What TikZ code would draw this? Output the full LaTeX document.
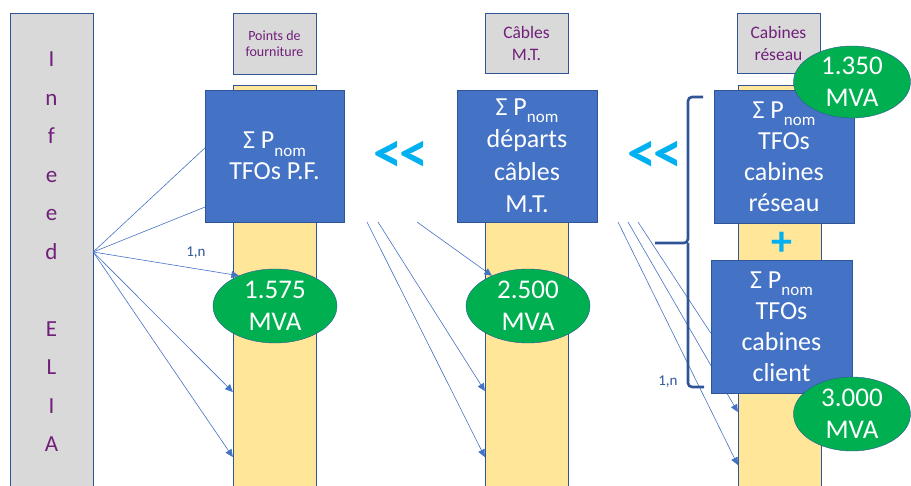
\documentclass[tikz,border=0pt]{standalone}
\usepackage{fontspec}
\setmainfont{Carlito}
\usepackage{xcolor}
\usetikzlibrary{arrows.meta, positioning, calc, shapes.geometric}
\definecolor{boxblue}{RGB}{68,114,196}
\definecolor{edgeblue}{RGB}{47,85,151}
\definecolor{mvagreen}{RGB}{0,176,80}
\definecolor{colyellow}{RGB}{255,230,153}
\definecolor{labgray}{RGB}{217,217,217}
\definecolor{labpurple}{RGB}{112,32,122}
\definecolor{accentcyan}{RGB}{0,176,240}
\pgfdeclarelayer{bg}
\pgfdeclarelayer{links}
\pgfsetlayers{bg,links,main}
\newcommand{\sumP}{Σ P\raisebox{-0.28em}{\fontsize{17}{17}\selectfont nom}}
\tikzset{
  infeedbox/.style={rectangle, draw=edgeblue, fill=labgray, minimum width=83pt, minimum height=478pt, inner sep=0pt, align=center, text=labpurple, font=\fontsize{23}{38.5}\selectfont},
  labelbox/.style={rectangle, draw=edgeblue, fill=labgray, minimum width=83pt, minimum height=60pt, inner sep=0pt, align=center, text=labpurple, font=\fontsize{17.5}{22}\selectfont},
  column/.style={rectangle, draw=edgeblue, fill=colyellow, minimum width=83pt, inner sep=0pt},
  sumbox/.style={rectangle, draw=edgeblue, fill=boxblue, minimum width=140pt, minimum height=132pt, inner sep=0pt, align=center, text=white, font=\fontsize{26}{31}\selectfont},
  mva/.style={ellipse, draw=edgeblue, fill=mvagreen, minimum width=124pt, minimum height=74pt, inner sep=0pt, align=center, text=white, font=\fontsize{27}{32}\selectfont},
  feed/.style={draw=boxblue, line width=0.6pt},
  arrow/.style={feed, -{Triangle[length=7.5pt,width=7pt]}},
  mult/.style={text=edgeblue, font=\fontsize{15}{15}\selectfont},
  less/.style={text=accentcyan, font=\bfseries\fontsize{58}{58}\selectfont},
  brace/.style={draw=edgeblue, line width=2.6pt, rounded corners=4pt}
}

\begin{document}
\begin{tikzpicture}[x=1pt, y=-1pt]
\useasboundingbox (0,0) rectangle (911,486);

\begin{pgfonlayer}{bg}
\node[infeedbox] (infeed) at (51.5,252) {I\\n\\f\\e\\e\\d\\[38.5pt]E\\L\\I\\A};
\node[column, minimum height=405pt] (col1) at (274.5,287.5) {};
\node[column, minimum height=400pt] (col2) at (526.5,290) {};
\node[column, minimum height=405pt] (col3) at (779.5,287.5) {};
\node[labelbox, font=\fontsize{14}{16.5}\selectfont, minimum height=61pt] (lab1) at (274.5,43.5) {Points de\\fourniture};
\node[labelbox] (lab2) at (526.5,43) {Câbles\\M.T.};
\node[labelbox] (lab3) at (778.5,43) {Cabines\\réseau};
\end{pgfonlayer}

% sum boxes
\node[sumbox, minimum width=139pt] (sum1) at (274.5,156) {\sumP\\TFOs P.F.};
\node[sumbox, font=\fontsize{26}{32.5}\selectfont] (sum2) at (527,156) {\sumP\\départs\\câbles\\M.T.};
\node[sumbox, minimum height=133pt] (sum3) at (784,156.5) {\sumP\\TFOs\\cabines\\réseau};
\node[sumbox, minimum width=141pt, minimum height=133pt] (sum4) at (781.5,326.5) {\sumP\\TFOs\\cabines\\client};

% MVA values
\node[mva] (mva1) at (275,306) {1.575\\MVA};
\node[mva] (mva2) at (528,306) {2.500\\MVA};
\node[mva, minimum width=117pt, minimum height=72pt] (mva3) at (852,82) {1.350\\MVA};
\node[mva, minimum width=117pt, minimum height=74pt] (mva4) at (852,414) {3.000\\MVA};

\node[less] (lt1) at (401,157) {<\kern-3pt<};
\node[less] (lt2) at (655,157) {<\kern-3pt<};
\node[less, font=\bfseries\fontsize{42}{42}\selectfont] (plus) at (782,244) {+};
\node[mult] (n1) at (196,253) {1,n};
\node[mult] (n2) at (668,382) {1,n};

% brace
\coordinate (brtop) at (703,97);
\coordinate (brmid) at (655,243);
\coordinate (brbot) at (704,387);
\draw[brace] (brtop) -- (688,97) -- (688,243) -- (brmid);
\draw[brace] (688,243) -- (688,387) -- (brbot);

% connectors
\coordinate (s2a) at (367,222);
\coordinate (s2b) at (378,222);
\coordinate (s2c) at (417,222);
\coordinate (s3a) at (618,222);
\coordinate (s3b) at (628,222);
\coordinate (s3c) at (638,222);
\begin{pgfonlayer}{links}
\draw[feed] (infeed.east) -- ($(sum1.north west)!0.44!(sum1.south west)$);
\draw[feed] (infeed.east) -- ($(sum1.north west)!0.886!(sum1.south west)$);
\draw[arrow] (infeed.east) -- (mva1.140);
\draw[arrow] (infeed.east) -- (col1.west |- 0,392);
\draw[arrow] (infeed.east) -- (col1.west |- 0,457);

\draw[arrow] (s2a) -- (col2.west |- 0,457);
\draw[arrow] (s2b) -- (col2.west |- 0,391);
\draw[arrow] (s2c) -- (mva2.140);

\draw[arrow] (s3a) -- (col3.west |- 0,465);
\draw[arrow] (s3b) -- (col3.west |- 0,412);
\draw[feed] (s3c) -- ($(sum4.north west)!0.55!(sum4.south west)$);
\end{pgfonlayer}
\end{tikzpicture}
\end{document}
